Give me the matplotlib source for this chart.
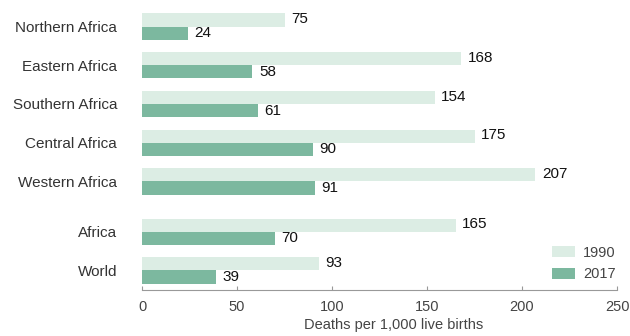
import numpy as np
import matplotlib.pyplot as plt

plt.rcParams['font.family'] = ['Liberation Sans', 'DejaVu Sans']

regions = ['Northern Africa', 'Eastern Africa', 'Southern Africa', 'Central Africa',
           'Western Africa', 'Africa', 'World']
y1990 = [75, 168, 154, 175, 207, 165, 93]
y2017 = [24, 58, 61, 90, 91, 70, 39]
# group positions, with a small gap before the Africa / World totals
pos = np.array([0, 1, 2, 3, 4, 5.3, 6.3])

c1990 = '#dcede4'
c2017 = '#7cb89f'
h = 0.34

fig = plt.figure(figsize=(6.3, 3.36), dpi=100)
ax = fig.add_axes([0.2254, 0.137, 0.754, 0.839])

ax.barh(pos - h / 2, y1990, height=h, color=c1990, label='1990')
ax.barh(pos + h / 2, y2017, height=h, color=c2017, label='2017')

for p, v in zip(pos, y1990):
    ax.text(v + 3.5, p - h / 2 - 0.02, str(v), va='center', ha='left', fontsize=11, color='#111111')
for p, v in zip(pos, y2017):
    ax.text(v + 3.5, p + h / 2, str(v), va='center', ha='left', fontsize=11, color='#111111')

ax.set_xlim(0, 250)
ax.set_ylim(6.804, -0.478)
ax.set_yticks(pos)
ax.set_yticklabels(regions, fontsize=11, color='#333333')
ax.tick_params(axis='y', length=0, pad=18)
ax.set_xticks([0, 50, 100, 150, 200, 250])
ax.tick_params(axis='x', direction='in', length=3, color='#999999', labelsize=10.5,
               labelcolor='#444444', pad=7)
ax.set_xlabel('Deaths per 1,000 live births', fontsize=10.5, color='#444444', labelpad=3, x=0.53)

for s in ['top', 'right', 'left']:
    ax.spines[s].set_visible(False)
ax.spines['bottom'].set_color('#999999')
ax.spines['bottom'].set_linewidth(0.8)

leg = ax.legend(loc='lower right', bbox_to_anchor=(1.015, 0.0), frameon=False, fontsize=10.5,
                handlelength=1.6, handleheight=0.8, borderaxespad=0.2, labelspacing=0.5,
                handletextpad=0.5)
for t in leg.get_texts():
    t.set_color('#444444')

fig.savefig('out.png', dpi=100)
